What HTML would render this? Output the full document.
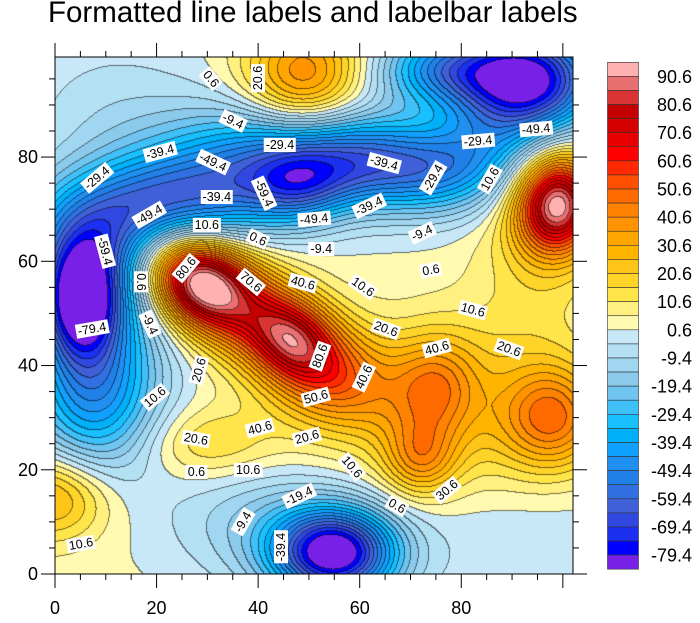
<!DOCTYPE html>
<html><head><meta charset="utf-8">
<style>
html,body{margin:0;padding:0;background:#fff;}
body{width:700px;height:623px;position:relative;overflow:hidden;font-family:"Liberation Sans",sans-serif;}
#title{position:absolute;left:48px;top:-4px;font-size:29.5px;line-height:34px;color:#000;white-space:nowrap;}
#cv{position:absolute;left:55px;top:57px;}
svg{position:absolute;left:0;top:0;}
.lb{position:absolute;font-size:12.5px;background:#fff;padding:0 2px;line-height:14px;white-space:nowrap;transform-origin:center center;}
</style></head><body>
<div id="title">Formatted line labels and labelbar labels</div>
<canvas id="cv" width="518" height="517"></canvas>
<svg id="sv" width="700" height="623"></svg>
<div id="labs"></div>
<script>
var X0=55,Y0=57,W=518,H=517,XR=102,YR=99.2;
var cols=["#ffb0b0","#e87070","#d83434","#c40000","#d40000","#e80000","#ff0000","#ff2a00","#ff5000","#ff6a00","#ff8200","#ff9400","#ffa600","#ffb400","#ffc418","#ffd428","#ffe44a","#fff080","#fffab0","#c8e8f8","#b4e0f4","#a0d6f0","#8ccaec","#70c4f0","#40c0f8","#18c0ff","#00b0f8","#10a0ff","#2090f0","#2080e8","#3070e0","#4060d8","#3048e0","#1c30f0","#0000ff","#7820e8"];
var G=[
[28,56,68,7,5.5,-30],[47,45,33,6,5,-40],[40,49,55,16,6.5,-35],[56,37,22,9,7,0],
[75,36,30,6,7,0],[72,22,28,5,5,0],[98,30,40,7,7,0],[80,30,15,16,11,0],
[99,71,85,5.5,6.5,0],[95,66,14,8,11,0],[30,25,15,10,5,0],
[49,95,40,8,8,0],[0,15,30,8,6,0],[90,45,5,10,8,0],
[5,53,-72,5.5,8,0],[55,4,-88,8.5,6,0],[48,74,-30,7,5,0],
[93,95,-85,10,7,0],[76,97,-40,9,5,0],
[25,72,-60,18,7,10],[65,78,-52,15,6,-5],[10,62,-30,10,10,0],
[8,36,-50,9,12,0],[40,10,-15,12,8,0],[85,82,-25,10,6,20],[12,90,-8,14,10,0],[45,84,-20,18,6,0],[88,8,-6,20,10,0]];
function f(x,y){var v=2;for(var i=0;i<G.length;i++){var g=G[i],a=g[5]*Math.PI/180,dx=x-g[0],dy=y-g[1];var u=dx*Math.cos(a)+dy*Math.sin(a),w=-dx*Math.sin(a)+dy*Math.cos(a);v+=g[2]*Math.exp(-0.5*(u*u/(g[3]*g[3])+w*w/(g[4]*g[4])));}return v;}
function idx(v){var k=Math.floor((95.6-v)/5);if(k<0)k=0;if(k>35)k=35;return k;}
function hex(c){return [parseInt(c.substr(1,2),16),parseInt(c.substr(3,2),16),parseInt(c.substr(5,2),16)];}
var rgb=cols.map(hex);
var cv=document.getElementById('cv'),ctx=cv.getContext('2d'),im=ctx.createImageData(W,H);
var K=new Int16Array(W*H);
for(var j=0;j<H;j++)for(var i=0;i<W;i++){K[j*W+i]=idx(f((i+0.5)/W*XR,(H-j-0.5)/H*YR));}
for(var j=0;j<H;j++)for(var i=0;i<W;i++){var k=K[j*W+i],c=rgb[k],p=(j*W+i)*4;var e=(i<W-1&&K[j*W+i+1]!=k)||(j<H-1&&K[(j+1)*W+i]!=k);var m=e?0.45:1;im.data[p]=c[0]*m;im.data[p+1]=c[1]*m;im.data[p+2]=c[2]*m;im.data[p+3]=255;}
ctx.putImageData(im,0,0);
var s='<rect x="55" y="57" width="518" height="517" fill="none" stroke="#000" stroke-width="1"/>';
function xp(v){return X0+v/XR*W;}function yp(v){return Y0+H-v/YR*H;}
for(var v=0;v<=100;v+=5){var x=xp(v),L=v%20==0?14:6;s+='<line x1="'+x+'" y1="57" x2="'+x+'" y2="'+(57-L)+'" stroke="#000"/><line x1="'+x+'" y1="574" x2="'+x+'" y2="'+(574+L)+'" stroke="#000"/>';if(v%20==0&&v<100)s+='<text x="'+x+'" y="614" font-size="18" text-anchor="middle">'+v+'</text>';}
for(var v=0;v<=95;v+=5){var y=yp(v),L=v%20==0?14:6;s+='<line x1="55" y1="'+y+'" x2="'+(55-L)+'" y2="'+y+'" stroke="#000"/><line x1="573" y1="'+y+'" x2="'+(573+L)+'" y2="'+y+'" stroke="#000"/>';if(v%20==0)s+='<text x="38" y="'+(y+6)+'" font-size="18" text-anchor="end">'+v+'</text>';}
for(var k=0;k<36;k++){var y=62.3+k*14.08;s+='<rect x="607.5" y="'+y+'" width="31" height="14.08" fill="'+cols[k]+'" stroke="#333" stroke-width="0.6"/>';}
for(var k=1;k<=35;k+=2){var y=62.3+k*14.08;var val=(95.6-5*k).toFixed(1);s+='<text x="692" y="'+(y+6.5)+'" font-size="18" text-anchor="end">'+val+'</text>';}
document.getElementById('sv').innerHTML=s;
var L=[[497,110,"0.6",50],[632,105,"20.6",-90],[562,225,"-9.4",25],[697,293,"-29.4",0],[1440,250,"-49.4",-5],[1272,283,"-29.4",-5],[348,313,"-39.4",-15],[502,340,"-49.4",25],[168,385,"-29.4",-40],[998,345,"-39.4",15],[1140,385,"-29.4",-60],[1305,390,"10.6",-60],[652,428,"-59.4",65],[514,440,"-39.4",0],[318,490,"-49.4",-30],[797,500,"-49.4",-5],[955,465,"-39.4",-25],[1108,540,"-9.4",-25],[485,518,"10.6",0],[633,558,"0.6",25],[817,585,"-9.4",0],[190,590,"-59.4",75],[1135,645,"0.6",-10],[425,637,"80.6",-50],[295,678,"0.6",90],[613,677,"70.6",40],[765,680,"40.6",15],[937,690,"10.6",35],[153,808,"-79.4",-10],[320,795,"-9.4",65],[1258,755,"10.6",15],[1005,810,"20.6",20],[812,885,"80.6",-70],[1362,865,"20.6",20],[1152,862,"40.6",-15],[940,943,"40.6",-65],[463,925,"20.6",-75],[335,1000,"10.6",-40],[802,1000,"50.6",-15],[638,1085,"40.6",-15],[775,1112,"20.6",-15],[453,1118,"20.6",10],[455,1210,"0.6",0],[605,1205,"10.6",0],[907,1195,"10.6",50],[1180,1260,"30.6",-40],[752,1278,"-19.4",-25],[1035,1305,"0.6",30],[590,1350,"-9.4",-60],[120,1412,"10.6",-10],[700,1420,"-39.4",-90]];
var h='';
for(var i=0;i<L.length;i++){var a=L[i],x=55+(a[0]-45)*0.345,y=57+(a[1]-47)*0.357;h+='<div class="lb" style="left:'+x+'px;top:'+y+'px;transform:translate(-50%,-50%) rotate('+a[3]+'deg)">'+a[2]+'</div>';}
document.getElementById('labs').innerHTML=h;
</script>
</body></html>
